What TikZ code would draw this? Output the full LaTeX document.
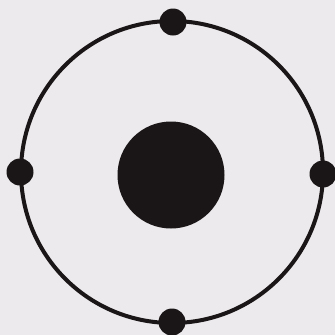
\documentclass[tikz,border=0pt]{standalone}
\definecolor{bg}{HTML}{ECEAEC}
\definecolor{ink}{HTML}{1A1517}
\tikzset{
  ring/.style={circle, draw=ink, line width=4pt, minimum size=302pt, inner sep=0pt},
  nucleus/.style={circle, fill=ink, minimum size=107pt, inner sep=0pt},
  electron/.style={circle, fill=ink, minimum size=27pt, inner sep=0pt}
}
\begin{document}
\begin{tikzpicture}[x=1pt,y=-1pt]
\fill[bg] (0,0) rectangle (335,335);
\useasboundingbox (0,0) rectangle (335,335);
\node[ring] (orbit) at (172,172) {};
\node[nucleus] (core) at (171,175) {};
\node[electron] (e1) at (173,22) {};
\node[electron] (e2) at (20,172) {};
\node[electron] (e3) at (323,174) {};
\node[electron] (e4) at (172,322) {};
\end{tikzpicture}
\end{document}
